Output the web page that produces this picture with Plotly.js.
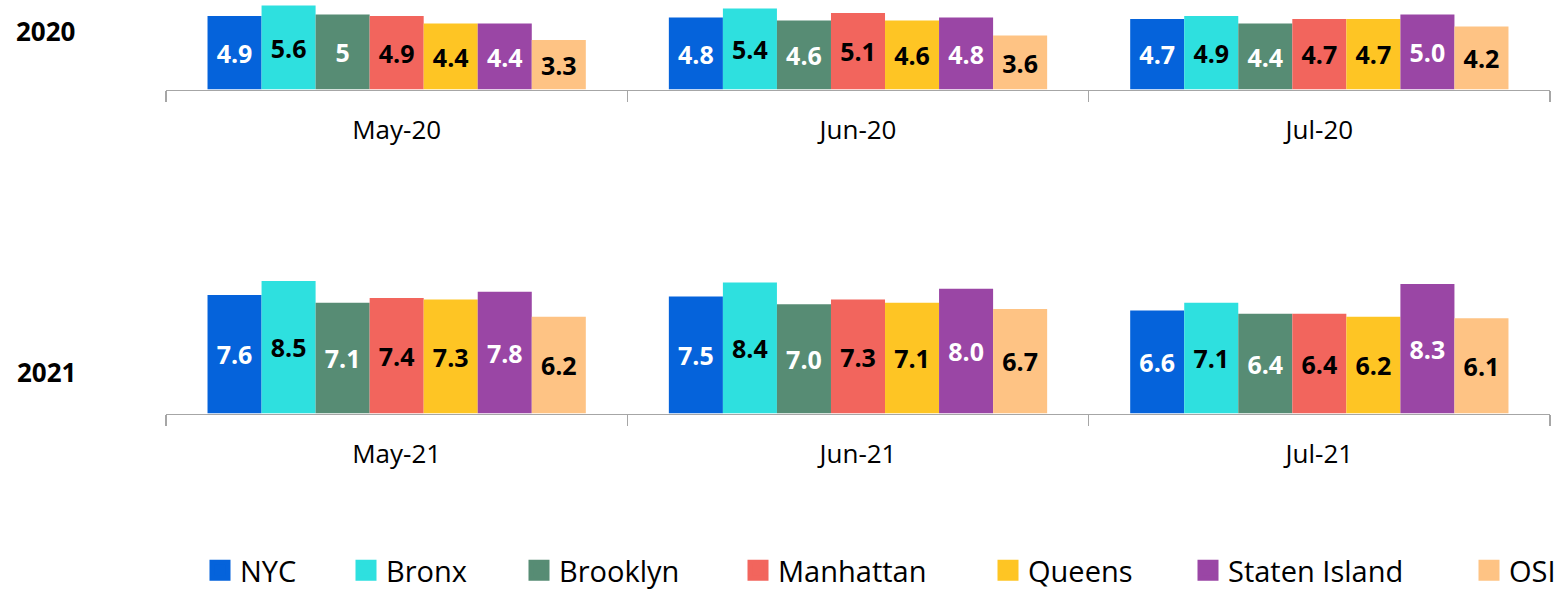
<!DOCTYPE html>
<html>
<head>
<meta charset="utf-8">
<script src="https://cdn.plot.ly/plotly-3.0.1.min.js"></script>
<style>html,body{margin:0;padding:0;background:#fff;}#chart{width:1564px;height:591px;}</style>
</head>
<body>
<div id="chart"></div>
<script>
// ---- data ----
const months2020 = ["May-20", "Jun-20", "Jul-20"];
const months2021 = ["May-21", "Jun-21", "Jul-21"];
const seriesNames = ["NYC", "Bronx", "Brooklyn", "Manhattan", "Queens", "Staten Island", "OSI"];

const nyc2020 = [4.9, 4.8, 4.7];
const bronx2020 = [5.6, 5.4, 4.9];
const brooklyn2020 = [5.0, 4.6, 4.4];
const manhattan2020 = [4.9, 5.1, 4.7];
const queens2020 = [4.4, 4.6, 4.7];
const staten2020 = [4.4, 4.8, 5.0];
const osi2020 = [3.3, 3.6, 4.2];

const nyc2021 = [7.6, 7.5, 6.6];
const bronx2021 = [8.5, 8.4, 7.1];
const brooklyn2021 = [7.1, 7.0, 6.4];
const manhattan2021 = [7.4, 7.3, 6.4];
const queens2021 = [7.3, 7.1, 6.2];
const staten2021 = [7.8, 8.0, 8.3];
const osi2021 = [6.2, 6.7, 6.1];

// data labels as shown in the chart
const labels2020 = [
  ["4.9", "4.8", "4.7"],
  ["5.6", "5.4", "4.9"],
  ["5", "4.6", "4.4"],
  ["4.9", "5.1", "4.7"],
  ["4.4", "4.6", "4.7"],
  ["4.4", "4.8", "5.0"],
  ["3.3", "3.6", "4.2"]
];
const labels2021 = [
  ["7.6", "7.5", "6.6"],
  ["8.5", "8.4", "7.1"],
  ["7.1", "7.0", "6.4"],
  ["7.4", "7.3", "6.4"],
  ["7.3", "7.1", "6.2"],
  ["7.8", "8.0", "8.3"],
  ["6.2", "6.7", "6.1"]
];

// ---- styles ----
const FONT = "'Open Sans', 'Noto Sans', sans-serif";
const colors = ["#0563DB", "#2EE0DF", "#578C74", "#F2655D", "#FEC524", "#9A46A5", "#FEC384"];
const textColors = ["#ffffff", "#000000", "#ffffff", "#000000", "#000000", "#ffffff", "#000000"];
const legendSquareLeft = [209, 355, 528, 747, 997, 1197, 1478];

const vals2020 = [nyc2020, bronx2020, brooklyn2020, manhattan2020, queens2020, staten2020, osi2020];
const vals2021 = [nyc2021, bronx2021, brooklyn2021, manhattan2021, queens2021, staten2021, osi2021];

const traces = [];
function addBars(xs, vals, labels, xa, ya) {
  seriesNames.forEach((name, i) => {
    traces.push({
      type: "bar", name: name, x: xs, y: vals[i],
      xaxis: xa, yaxis: ya,
      text: labels[i], textposition: "inside", insidetextanchor: "middle",
      textangle: 0, constraintext: "none",
      insidetextfont: {family: FONT, size: 25, color: textColors[i], weight: "bold"},
      marker: {color: colors[i], line: {width: 0}},
      showlegend: false, hoverinfo: "skip"
    });
  });
}
addBars(months2020, vals2020, labels2020, "x", "y");
addBars(months2021, vals2021, labels2021, "x2", "y2");

// legend entries (no marks drawn; one legend per entry so spacing matches)
seriesNames.forEach((name, i) => {
  traces.push({
    type: "scatter", mode: "markers", name: name, x: [null], y: [null],
    xaxis: "x", yaxis: "y",
    marker: {symbol: "square", size: 16, color: colors[i], line: {color: colors[i], width: 5}},
    showlegend: true, legend: i === 0 ? "legend" : "legend" + (i + 1), hoverinfo: "skip"
  });
});

const xaxisCommon = {
  type: "category",
  showline: true, linecolor: "#A6A6A6", linewidth: 1.5,
  ticks: "outside", tickson: "boundaries", ticklen: 11, tickcolor: "#A6A6A6", tickwidth: 1.5,
  showgrid: false, zeroline: false, fixedrange: true,
  tickfont: {family: FONT, size: 26, color: "#000"},
  ticklabelstandoff: 17
};

const H = 591, W = 1564;
const layout = {
  width: W, height: H,
  margin: {l: 166, r: 14, t: 0, b: 0, autoexpand: false},
  paper_bgcolor: "#fff", plot_bgcolor: "#fff",
  barmode: "group", bargap: 0.18, bargroupgap: 0,
  showlegend: true,
  xaxis: Object.assign({}, xaxisCommon, {anchor: "y", domain: [0, 1]}),
  xaxis2: Object.assign({}, xaxisCommon, {anchor: "y2", domain: [0, 1]}),
  yaxis: {domain: [1 - 89.5 / H, 1], range: [0, 5.97], visible: false, fixedrange: true},
  yaxis2: {domain: [1 - 413.5 / H, 1 - 257.5 / H], range: [0, 10], visible: false, fixedrange: true},
  annotations: [
    {text: "<b>2020</b>", xref: "paper", yref: "paper", x: (45 - 166) / 1384, y: 1 - 31 / H,
     showarrow: false, xanchor: "center", yanchor: "middle",
     font: {family: FONT, size: 26, color: "#000"}},
    {text: "<b>2021</b>", xref: "paper", yref: "paper", x: (46 - 166) / 1384, y: 1 - 372 / H,
     showarrow: false, xanchor: "center", yanchor: "middle",
     font: {family: FONT, size: 26, color: "#000"}}
  ]
};
seriesNames.forEach((name, i) => {
  const key = i === 0 ? "legend" : "legend" + (i + 1);
  layout[key] = {
    orientation: "h", xref: "container", yref: "container",
    x: (legendSquareLeft[i] - 9) / W, xanchor: "left",
    y: 20.5 / H, yanchor: "middle",
    bgcolor: "rgba(0,0,0,0)", borderwidth: 0,
    font: {family: FONT, size: 29, color: "#000"},
    itemsizing: "trace"
  };
});

Plotly.newPlot("chart", traces, layout, {staticPlot: true, displayModeBar: false});
</script>
</body>
</html>
